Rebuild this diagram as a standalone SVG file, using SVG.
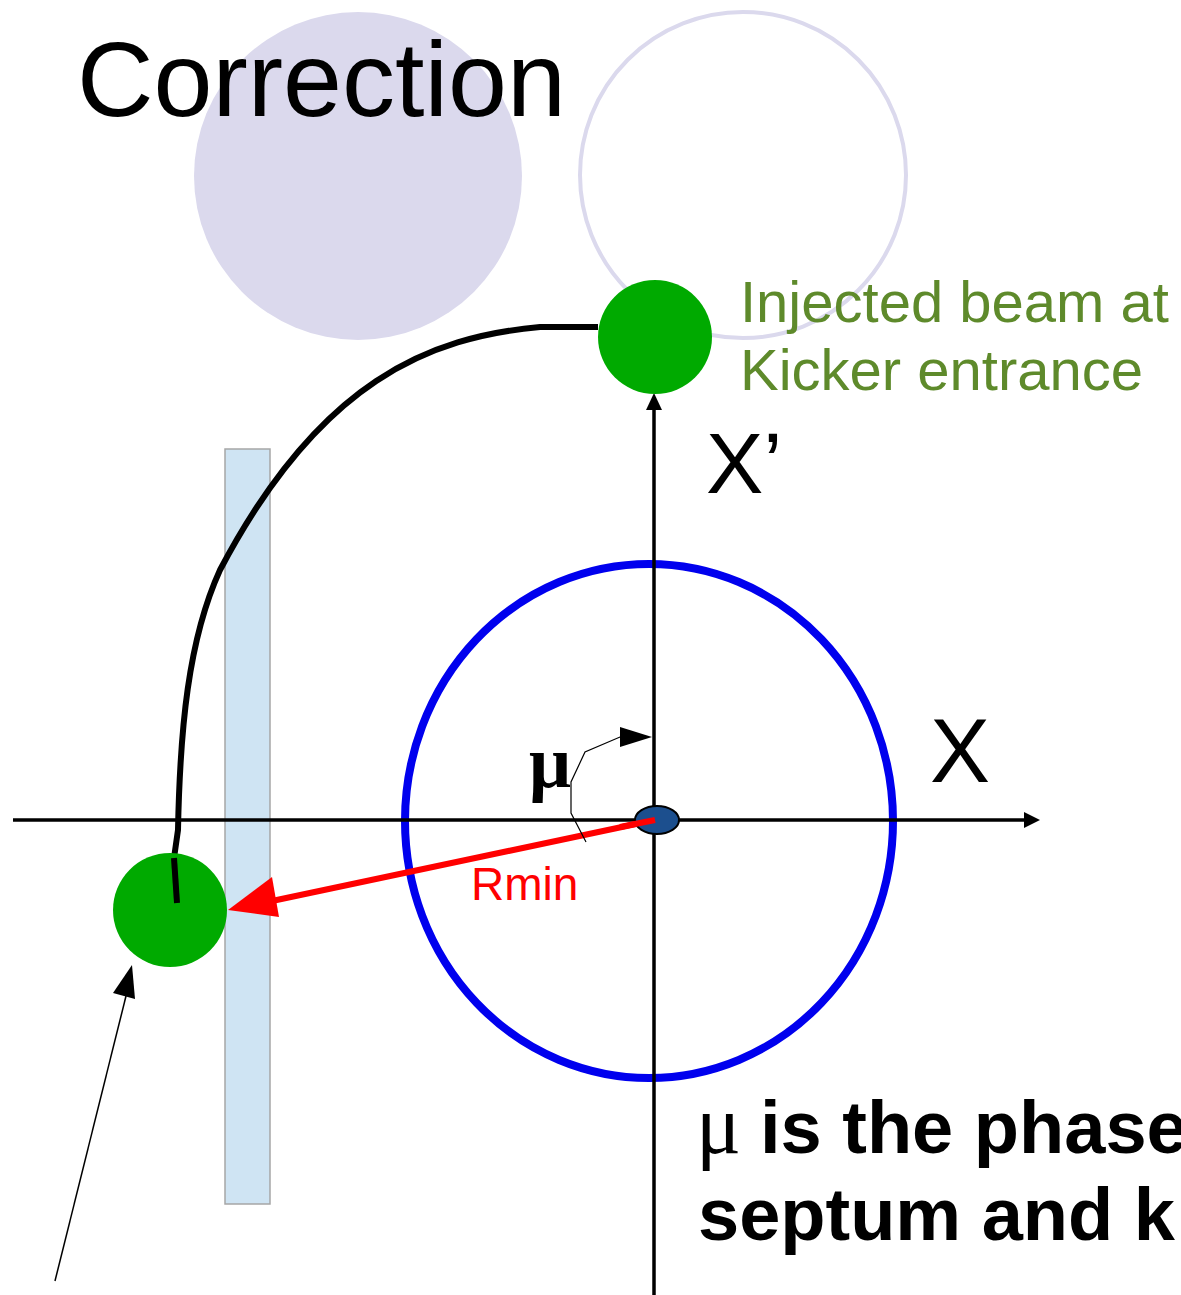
<svg xmlns="http://www.w3.org/2000/svg" width="1181" height="1295" viewBox="0 0 1181 1295">
<style>
.sans{font-family:"Liberation Sans",Arial,sans-serif}
.green{fill:#5e8a2b}
</style>
<rect width="1181" height="1295" fill="#fff"/>
<g id="deco-circles">
<circle cx="358" cy="176" r="164" fill="#dbd9ed"/>
<circle cx="743" cy="175" r="163" fill="none" stroke="#dbd9ed" stroke-width="4"/>
</g>
<text id="title" class="sans" x="77" y="116" font-size="106" fill="#000">Correction</text>
<g id="septum"><rect x="225" y="449" width="45" height="755" fill="#cfe4f3" stroke="#a6a6a6" stroke-width="1.5"/></g>
<g id="ellipse"><ellipse cx="649" cy="821" rx="244" ry="257" fill="none" stroke="#0000ee" stroke-width="8"/></g>
<g id="connectors">
<line x1="13" y1="820" x2="1026" y2="820" stroke="#000" stroke-width="3.5"/>
<path d="M1040,820 L1024,812 L1024,828 Z" fill="#000"/>
<line x1="654" y1="1295" x2="654" y2="410" stroke="#000" stroke-width="3.5"/>
<path d="M654,393 L646,410 L662,410 Z" fill="#000"/>
<path d="M598,327 L540,327 C430,337 320,380 220,570 C188,640 180,730 178,830 L174,858 L177,903" fill="none" stroke="#000" stroke-width="6"/>
<line x1="655" y1="820" x2="272" y2="901" stroke="#ff0000" stroke-width="6"/>
<path d="M228,910 L272,877 L279,917 Z" fill="#ff0000"/>
<polyline points="586,842 571,813 571,782 585,752 620,737 636,737" fill="none" stroke="#000" stroke-width="1.2"/>
<path d="M652,737 L620,727 L620,747 Z" fill="#000"/>
<line x1="55" y1="1281" x2="127" y2="992" stroke="#000" stroke-width="1.5"/>
<path d="M132,965 L113,993 L135,999 Z" fill="#000"/>
</g>
<g id="origin"><ellipse cx="657" cy="820" rx="22" ry="14" fill="#1c4f8e" stroke="#000" stroke-width="2"/></g>
<line x1="655" y1="820" x2="620" y2="827" stroke="#ff0000" stroke-width="6"/>
<g id="beam-top"><circle cx="655" cy="337" r="57" fill="#00aa00"/></g>
<g id="beam-bottom"><circle cx="170" cy="910" r="57" fill="#00aa00"/><path d="M174,858 L177,903" stroke="#000" stroke-width="6"/></g>
<text class="sans green" x="740" y="322" font-size="58">Injected beam at</text>
<text class="sans green" x="740" y="390" font-size="58">Kicker entrance</text>
<text class="sans" x="706" y="493" font-size="86" fill="#000">X’</text>
<text class="sans" x="930" y="782" font-size="90" fill="#000">X</text>
<text x="529" y="787" font-size="74" font-weight="bold" font-family="Liberation Serif,serif" fill="#000">μ</text>
<text class="sans" x="471" y="900" font-size="46" fill="#ff0000">Rmin</text>
<text x="696" y="1153" font-size="74" font-weight="bold" fill="#000"><tspan font-family="Liberation Serif,serif" font-size="84" font-weight="normal">μ</tspan><tspan class="sans" x="760">is the phase</tspan></text>
<text class="sans" x="698" y="1240" font-size="74" font-weight="bold" fill="#000">septum and k</text>
</svg>
